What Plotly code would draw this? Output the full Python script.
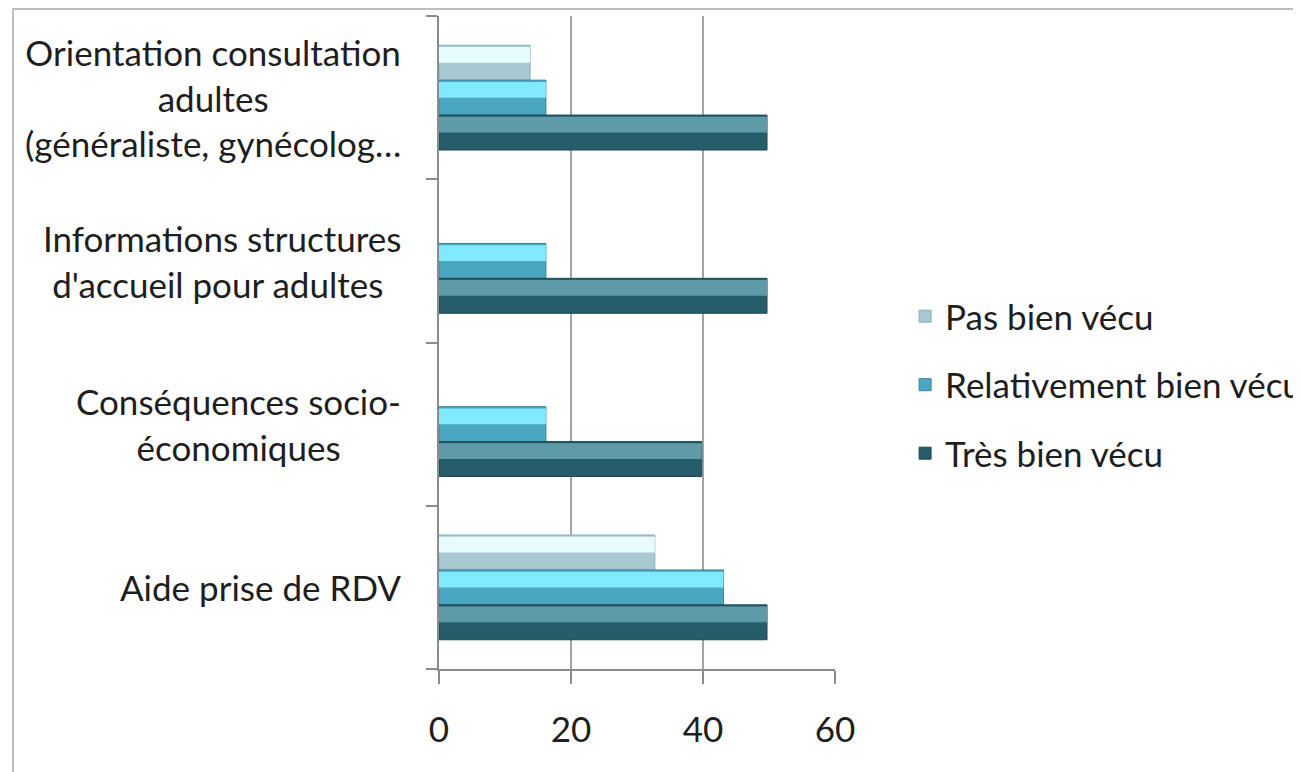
import plotly.graph_objects as go

categories = ["Aide prise de RDV",
              "Conséquences socio-économiques",
              "Informations structures d'accueil pour adultes",
              "Orientation consultation adultes (généraliste, gynécolog…"]
category_labels = ["Aide prise de RDV",
                   "Conséquences socio-<br>économiques",
                   "Informations structures<br>d'accueil pour adultes ",
                   "Orientation consultation<br>adultes<br>(généraliste, gynécolog…"]

pas_bien = [32.7, None, None, 13.8]
relativement_bien = [43.1, 16.2, 16.2, 16.2]
tres_bien = [49.7, 39.8, 49.7, 49.7]

series_names = ["Pas bien vécu", "Relativement bien vécu", "Très bien vécu"]
series_values = [pas_bien, relativement_bien, tres_bien]
base_colors = ["#a8c8d2", "#4ba6bf", "#275d6b"]
light_colors = ["#e8fbfe", "#80eafc", "#5c9ba7"]
line_colors = ["#8eadb7", "#3a8499", "#1d4853"]

FONT = "Lato"
FS = 35
bw = 0.214
offsets = [0.5 * bw, -0.5 * bw, -1.5 * bw]

fig = go.Figure()
for name, vals, bc, lc, oc, off in zip(series_names, series_values, base_colors,
                                       light_colors, line_colors, offsets):
    fig.add_trace(go.Bar(
        y=categories, x=vals, orientation="h", name=name,
        legendgroup=name, offset=off, width=bw,
        marker=dict(color=bc, line=dict(color=oc, width=1)),
    ))
    fig.add_trace(go.Bar(
        y=categories, x=vals, orientation="h", name=name,
        legendgroup=name, showlegend=False,
        offset=off + bw * 0.5, width=bw * 0.45,
        marker=dict(color=lc, line=dict(width=0)),
        hoverinfo="skip",
    ))

annotations = []
for cat, lab in zip(categories, category_labels):
    annotations.append(dict(
        x=-0.09, xref="paper", y=cat, yref="y",
        text=lab, showarrow=False, xanchor="right", yanchor="middle",
        align="center", font=dict(family=FONT, size=FS, color="#1e1e1e"),
    ))

fig.update_layout(
    width=1301, height=772,
    barmode="overlay",
    plot_bgcolor="white", paper_bgcolor="white",
    margin=dict(l=431, r=474, t=8, b=111, autoexpand=False),
    font=dict(family=FONT, size=FS, color="#1e1e1e"),
    showlegend=True,
    legend=dict(
        x=1.177, xanchor="left", y=0.435, yanchor="middle",
        traceorder="grouped", tracegroupgap=20,
        font=dict(family=FONT, size=FS, color="#1e1e1e"),
        bgcolor="rgba(0,0,0,0)",
    ),
    annotations=annotations,
    shapes=[dict(type="rect", xref="paper", yref="paper",
                 x0=-1.0758, x1=2.3, y0=-0.3, y1=1.0107,
                 line=dict(color="#bdbdbd", width=2), fillcolor="rgba(0,0,0,0)",
                 layer="below")],
)
fig.update_xaxes(
    range=[0, 60], dtick=20, tick0=0,
    showgrid=True, gridcolor="#a3a3a3", gridwidth=2,
    zeroline=False,
    showline=True, linecolor="#8c8c8c", linewidth=2,
    ticks="outside", ticklen=13, tickcolor="#8c8c8c", tickwidth=2,
    ticklabelstandoff=16,
    tickfont=dict(family=FONT, size=FS, color="#1e1e1e"),
)
fig.update_yaxes(
    type="category", categoryorder="array", categoryarray=categories,
    range=[-0.5, 3.5],
    showticklabels=False,
    showline=True, linecolor="#8c8c8c", linewidth=2,
    ticks="outside", ticklen=11, tickcolor="#8c8c8c", tickwidth=2,
    tickson="boundaries", showgrid=False,
)

fig.write_html("out.html")
